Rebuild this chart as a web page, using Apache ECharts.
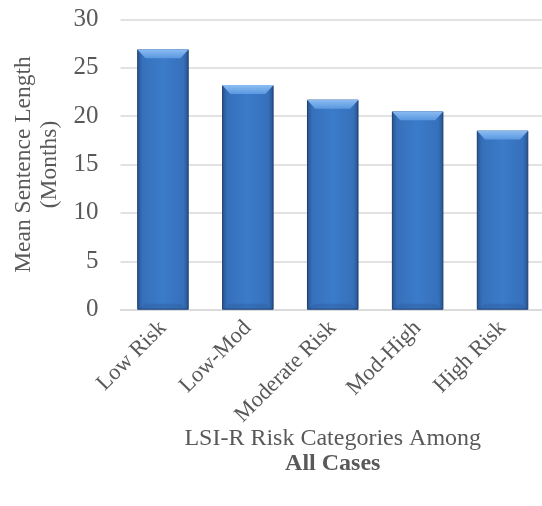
<!DOCTYPE html>
<html>
<head>
  <meta charset="utf-8">
  <title>ECharts</title>
  <script src="https://cdn.jsdelivr.net/npm/echarts@6/dist/echarts.min.js"></script>
  <style>
    html, body { margin: 0; padding: 0; background: #fff; }
  </style>
</head>
<body>
<div id="main" style="width: 542px;height:506px;"></div>
<script type="text/javascript">
  var categories = ['Low Risk', 'Low-Mod', 'Moderate Risk', 'Mod-High', 'High Risk'];
  var meanMonths = [26.9, 23.2, 21.7, 20.5, 18.5];
  var yTicks = [0, 5, 10, 15, 20, 25, 30];

  var myChart = echarts.init(document.getElementById('main'));

  var font = '"Liberation Serif", "Times New Roman", serif';
  var grey = '#595959';

  option = {
    animation: false,
    grid: { left: 120.5, right: -3, top: 19.3, bottom: 196.3, outerBoundsMode: 'none' },
    xAxis: {
      type: 'category',
      data: categories,
      axisTick: { show: false },
      axisLine: { lineStyle: { color: '#d9d9d9', width: 1.5 } },
      axisLabel: {
        rotate: 45, color: grey, fontFamily: font, fontSize: 22.5, margin: 15
      },
      name: '{a|LSI-R Risk Categories Among}\n{b|All Cases}',
      nameLocation: 'middle',
      nameGap: 117,
      nameMoveOverlap: false,
      nameTextStyle: {
        rich: {
          a: { color: grey, fontFamily: font, fontSize: 24, lineHeight: 25 },
          b: { color: grey, fontFamily: font, fontSize: 24, fontWeight: 'bold', lineHeight: 25 }
        }
      }
    },
    yAxis: {
      type: 'value',
      min: yTicks[0],
      max: yTicks[yTicks.length - 1],
      interval: 5,
      axisLine: { show: false },
      axisTick: { show: false },
      splitLine: { lineStyle: { color: '#d9d9d9', width: 1.5 } },
      axisLabel: { color: grey, fontFamily: font, fontSize: 25, margin: 22 },
      name: 'Mean Sentence Length\n(Months)',
      nameLocation: 'middle',
      nameGap: 58,
      nameMoveOverlap: false,
      nameTextStyle: { color: grey, fontFamily: font, fontSize: 23.5, lineHeight: 26 }
    },
    series: [{
      type: 'bar',
      data: meanMonths,
      barWidth: '60.7%',
      itemStyle: {
        color: new echarts.graphic.LinearGradient(0, 0, 1, 0, [
          { offset: 0, color: '#26528c' },
          { offset: 0.1, color: '#3670bb' },
          { offset: 0.5, color: '#3b7bc9' },
          { offset: 0.9, color: '#3670bb' },
          { offset: 1, color: '#26528c' }
        ]),
        borderColor: '#1d3f6d',
        borderWidth: 1
      }
    }, {
      // light bevel on the top of each bar
      type: 'pictorialBar',
      data: meanMonths,
      barWidth: '60.7%',
      symbol: 'path://M0,0 L100,0 L84,10 L16,10 Z',
      symbolKeepAspect: false,
      symbolPosition: 'end',
      symbolSize: ['100%', 9],
      z: 3,
      itemStyle: {
        color: new echarts.graphic.LinearGradient(0, 0, 0, 1, [
          { offset: 0, color: '#8cbdf2' },
          { offset: 1, color: '#5a97e0' }
        ])
      }
    }, {
      // soft dark bevel at the base of each bar
      type: 'pictorialBar',
      data: meanMonths,
      barWidth: '60.7%',
      symbol: 'path://M16,0 L84,0 L100,10 L0,10 Z',
      symbolKeepAspect: false,
      symbolPosition: 'start',
      symbolSize: ['100%', 6],
      z: 3,
      itemStyle: { color: '#2c5a98', opacity: 0.35 }
    }]
  };

  myChart.setOption(option);
</script>
</body>
</html>
